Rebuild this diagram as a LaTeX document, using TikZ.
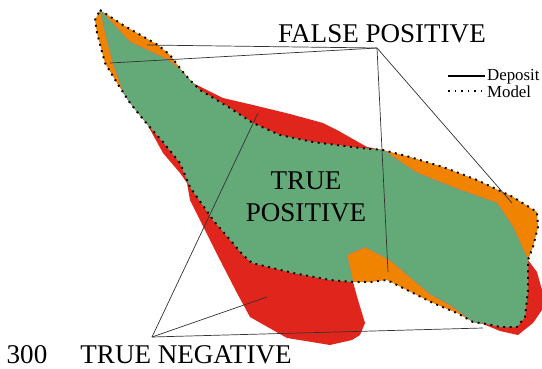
\documentclass[tikz,border=0pt]{standalone}
\usepackage{fontspec}
\setmainfont{Liberation Serif}
\usetikzlibrary{positioning}
\definecolor{overlap}{RGB}{100,169,120}
\definecolor{falsepos}{RGB}{240,132,0}
\definecolor{trueneg}{RGB}{224,38,28}
% outlines, in picture pixels
\newcommand{\depositpath}{(100,10) -- (130,42) -- (168,60) -- (183,72) -- (193,83) -- (223,98) -- (253,105)
  -- (290,114) -- (323,123) -- (337,130) -- (367,147) -- (383,150) -- (417,173) -- (460,190)
  -- (497,203) -- (513,227) -- (528,260) -- (537,272) -- (542,290) -- (542,310) -- (533,323) -- (518,335)
  -- (500,331) -- (483,324) -- (473,322) -- (452,306) -- (430,294) -- (410,277) -- (390,260) -- (365,247)
  -- (347,255) -- (353,282) -- (358,300) -- (365,323) -- (360,335) -- (352,340) -- (330,345) -- (287,338)
  -- (250,317) -- (237,293) -- (220,260) -- (205,230) -- (190,200) -- (187,183) -- (180,173) -- (163,153)
  -- (147,124) -- (130,103) -- (124,94) -- (119,80) -- (113,63) -- (107,40) -- cycle}
\newcommand{\modelpath}{(100,10) -- (123,25) -- (158,45) -- (170,55) -- (183,72) -- (190,80) -- (200,90)
  -- (230,108) -- (253,123) -- (280,135) -- (313,142) -- (360,148) -- (383,150) -- (410,157) -- (443,167)
  -- (477,180) -- (513,197) -- (537,212) -- (538,227) -- (533,247) -- (528,260) -- (528,290) -- (525,317)
  -- (517,327) -- (500,327) -- (487,324) -- (473,322) -- (457,313) -- (433,303) -- (407,290) -- (387,280)
  -- (370,282) -- (353,282) -- (330,280) -- (293,273) -- (252,263) -- (243,255) -- (213,220) -- (190,187)
  -- (180,163) -- (163,142) -- (147,124) -- (130,103) -- (117,83) -- (105,63) -- (97,33) -- (95,20) -- cycle}
\tikzset{
  modelline/.style={line width=1.1pt, dash pattern=on 1.1pt off 2.6pt, black},
  depline/.style={line width=1.2pt, black},
  leader/.style={line width=0.4pt, black!80},
  biglabel/.style={font=\fontsize{15.4}{18.2}\selectfont, align=center, inner sep=0pt},
  keylabel/.style={font=\fontsize{9.6}{11}\selectfont, inner sep=1pt},
}
\begin{document}
\begin{tikzpicture}[x=0.02cm, y=-0.02cm]
  \useasboundingbox (0,0) rectangle (542,369);

  % deposit only (red), model only (orange), both (green)
  \fill[trueneg] \depositpath;
  \fill[falsepos] \modelpath;
  \begin{scope}
    \clip \depositpath;
    \fill[overlap] \modelpath;
  \end{scope}
  \begin{scope}
    \clip \modelpath;
    \draw[line width=0.3pt, black!45] \depositpath;
  \end{scope}

  % leader lines
  \coordinate (fp) at (377,48);
  \coordinate (fp1) at (147,45);
  \coordinate (fp2) at (110,63);
  \coordinate (fp3) at (512,203);
  \coordinate (fp4) at (388,272);
  \coordinate (tn) at (152,337);
  \coordinate (tn1) at (258,113);
  \coordinate (tn2) at (267,297);
  \coordinate (tn3) at (483,328);
  \foreach \e in {fp1,fp2,fp3,fp4} \draw[leader] (fp) -- (\e);
  \foreach \e in {tn1,tn2,tn3} \draw[leader] (tn) -- (\e);

  \draw[modelline] \modelpath;

  % labels
  \node[biglabel, anchor=base] (fplabel) at (382,42) {FALSE POSITIVE};
  \node[biglabel] (tplabel) at (306,197) {TRUE\\POSITIVE};
  \node[biglabel, anchor=base] (tnlabel) at (186,363) {TRUE NEGATIVE};
  \node[biglabel, anchor=base] (num) at (27,363) {300};

  % key
  \node[keylabel, anchor=base west] (deplabel) at (485,80) {Deposit};
  \node[keylabel, anchor=base west] (modlabel) at (485,97) {Model};
  \coordinate (keystart) at (448,0);
  \draw[depline] (deplabel.west -| keystart) -- (deplabel.west);
  \draw[modelline] (modlabel.west -| keystart) -- (modlabel.west);
\end{tikzpicture}
\end{document}
